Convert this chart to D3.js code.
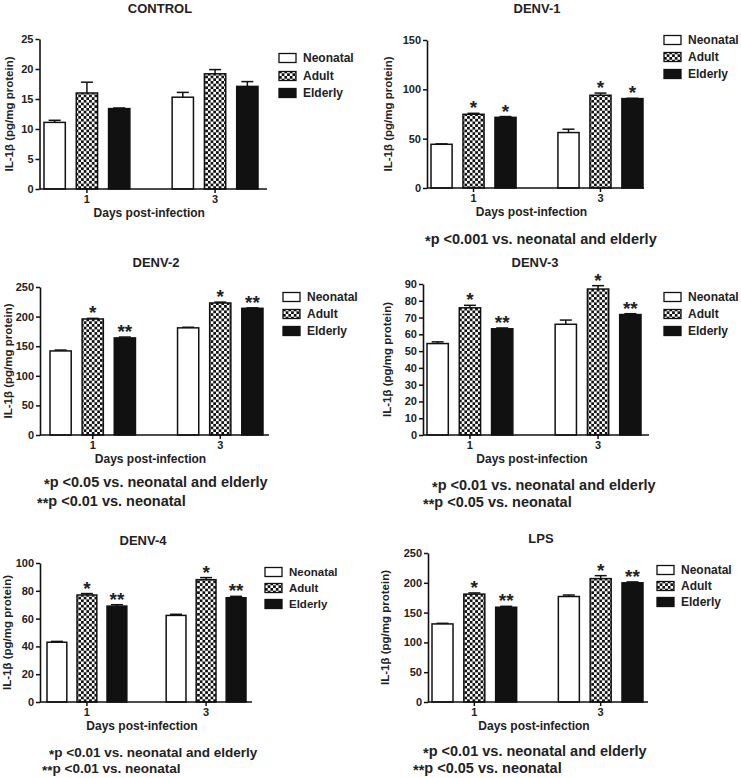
<!DOCTYPE html>
<html>
<head>
<meta charset="utf-8">
<script src="https://cdn.jsdelivr.net/npm/d3@7"></script>
<style>
  body { margin: 0; background: #fff; }
  svg { font-family: "Liberation Sans", Arial, sans-serif; font-weight: bold; }
</style>
</head>
<body>
<svg width="741" height="778"></svg>
<script>
var svg = d3.select("svg");

// data
var days = ["1", "3"];
var groups = ["Neonatal", "Adult", "Elderly"];
var panelNames = ["CONTROL", "DENV-1", "DENV-2", "DENV-3", "DENV-4", "LPS"];
var yMaxes = [25, 150, 250, 90, 100, 250];
var ySteps = [5, 50, 50, 10, 20, 50];

var controlMean = [[11.1, 16.0, 13.4], [15.3, 19.2, 17.1]];
var controlErr = [[0.35, 1.8, 0.1], [0.8, 0.7, 0.8]];
var controlStars = [["", "", ""], ["", "", ""]];

var denv1Mean = [[44.3, 74.7, 71.6], [56.2, 94, 90.6]];
var denv1Err = [[0.4, 1, 0.8], [3.4, 2.2, 0.3]];
var denv1Stars = [["", "*", "*"], ["", "*", "*"]];

var denv2Mean = [[142, 196, 164], [181, 223, 214]];
var denv2Err = [[1.5, 1, 1.5], [1, 1.5, 0.8]];
var denv2Stars = [["", "*", "**"], ["", "*", "**"]];

var denv3Mean = [[54.5, 75.8, 63.3], [66, 87, 71.8]];
var denv3Err = [[1, 1.5, 0.5], [2.5, 2, 0.5]];
var denv3Stars = [["", "*", "**"], ["", "*", "**"]];

var denv4Mean = [[43, 77, 69], [62.3, 88, 75]];
var denv4Err = [[0.6, 1, 1], [0.8, 1.5, 1]];
var denv4Stars = [["", "*", "**"], ["", "*", "**"]];

var lpsMean = [[131, 181, 159], [177, 207, 200]];
var lpsErr = [[1, 2, 1.5], [2.5, 5, 1.5]];
var lpsStars = [["", "*", "**"], ["", "*", "**"]];

var footnotes = [
  [],
  ["*p <0.001 vs. neonatal and elderly"],
  ["*p <0.05 vs. neonatal and elderly", "**p <0.01 vs. neonatal"],
  ["*p <0.01 vs. neonatal and elderly", "**p <0.05 vs. neonatal"],
  ["*p <0.01 vs. neonatal and elderly", "**p <0.01 vs. neonatal"],
  ["*p <0.01 vs. neonatal and elderly", "**p <0.05 vs. neonatal"]
];

var means = [controlMean, denv1Mean, denv2Mean, denv3Mean, denv4Mean, lpsMean];
var errs = [controlErr, denv1Err, denv2Err, denv3Err, denv4Err, lpsErr];
var stars = [controlStars, denv1Stars, denv2Stars, denv3Stars, denv4Stars, lpsStars];

// where each panel sits on the page
var layout = [
  {x0: 39.5, x1: 267, b0: 44, b1: 258, yT: 39, yB: 189, labX: 9, tX: 160, tY: 8, lgX: 279, lgY: [58, 76, 93], lgFs: 12, fnX: [], fnY: [], fnFs: 14.5},
  {x0: 427, x1: 644, b0: 431, b1: 643, yT: 40, yB: 188, labX: 388, tX: 537, tY: 8, lgX: 664, lgY: [40, 57, 74], lgFs: 12, fnX: [425], fnY: [239], fnFs: 14.5},
  {x0: 40, x1: 269, b0: 50, b1: 263, yT: 287, yB: 435, labX: 8, tX: 156, tY: 262, lgX: 283, lgY: [297, 314, 331], lgFs: 12, fnX: [44, 37], fnY: [482, 501], fnFs: 14.5},
  {x0: 423, x1: 649, b0: 427, b1: 641, yT: 284, yB: 435, labX: 387, tX: 535, tY: 262, lgX: 664, lgY: [297, 314, 331], lgFs: 12, fnX: [432, 423], fnY: [485, 502], fnFs: 14.5},
  {x0: 40, x1: 252, b0: 47, b1: 246, yT: 563, yB: 702, labX: 7, tX: 143, tY: 540, lgX: 265, lgY: [572, 588, 604], lgFs: 11.5, fnX: [49, 42], fnY: [752, 768], fnFs: 13.5},
  {x0: 428, x1: 648, b0: 432, b1: 643, yT: 553, yB: 702, labX: 385, tX: 541, tY: 538, lgX: 657, lgY: [570, 586, 602], lgFs: 12, fnX: [423, 413], fnY: [751, 768], fnFs: 14.5}
];

var fills = {Neonatal: "#fff", Adult: "url(#checker)", Elderly: "#111"};

var defs = svg.append("defs");
var pat = defs.append("pattern")
  .attr("id", "checker")
  .attr("width", 5.4).attr("height", 5.4)
  .attr("patternUnits", "userSpaceOnUse");
pat.append("rect").attr("width", 5.4).attr("height", 5.4).attr("fill", "#fff");
pat.append("rect").attr("width", 2.7).attr("height", 2.7).attr("fill", "#111");
pat.append("rect").attr("x", 2.7).attr("y", 2.7).attr("width", 2.7).attr("height", 2.7).attr("fill", "#111");

panelNames.forEach(function(name, p) {
  var L = layout[p];
  var g = svg.append("g");

  var x = d3.scaleBand().domain(days).range([L.b0, L.b1]).paddingInner(0.33);
  var x1 = d3.scaleBand().domain(groups).range([0, x.bandwidth()]).paddingInner(0.34);
  var y = d3.scaleLinear().domain([0, yMaxes[p]]).range([L.yB, L.yT]);

  var rows = [];
  days.forEach(function(d, i) {
    groups.forEach(function(grp, j) {
      rows.push({day: d, group: grp, mean: means[p][i][j], err: errs[p][i][j], star: stars[p][i][j]});
    });
  });

  // bars
  g.selectAll(".bar")
    .data(rows)
    .enter().append("rect")
    .attr("x", function(d) { return x(d.day) + x1(d.group); })
    .attr("y", function(d) { return y(d.mean); })
    .attr("width", x1.bandwidth())
    .attr("height", function(d) { return L.yB - y(d.mean); })
    .attr("fill", function(d) { return fills[d.group]; })
    .attr("stroke", "#111")
    .attr("stroke-width", 1.5);

  // error bars (upper only)
  var eb = g.selectAll(".err")
    .data(rows)
    .enter().append("g")
    .attr("transform", function(d) { return "translate(" + (x(d.day) + x1(d.group) + x1.bandwidth() / 2) + ",0)"; });
  eb.append("line")
    .attr("y1", function(d) { return y(d.mean); })
    .attr("y2", function(d) { return y(d.mean + d.err); })
    .attr("stroke", "#111").attr("stroke-width", 1.5);
  eb.append("line")
    .attr("x1", -6).attr("x2", 6)
    .attr("y1", function(d) { return y(d.mean + d.err); })
    .attr("y2", function(d) { return y(d.mean + d.err); })
    .attr("stroke", "#111").attr("stroke-width", 1.5);
  eb.append("text")
    .attr("y", function(d) { return y(d.mean + d.err) + 1; })
    .attr("text-anchor", "middle")
    .attr("font-size", 19)
    .attr("fill", "#222")
    .text(function(d) { return d.star; });

  // y axis
  var yAxis = g.append("g")
    .attr("transform", "translate(" + L.x0 + ",0)")
    .call(d3.axisLeft(y).tickValues(d3.range(0, yMaxes[p] + 1, ySteps[p])).tickSize(4).tickSizeOuter(0).tickPadding(2));
  yAxis.select(".domain").attr("stroke", "#111").attr("stroke-width", 1.6);
  yAxis.selectAll(".tick line").attr("stroke", "#111").attr("stroke-width", 1.5);
  yAxis.selectAll("text").attr("font-size", 11).attr("font-weight", "bold").attr("fill", "#222")
    .attr("font-family", "Liberation Sans, Arial, sans-serif");

  // x axis
  var xAxis = g.append("g")
    .attr("transform", "translate(0," + L.yB + ")")
    .call(d3.axisBottom(x).tickSize(4).tickSizeOuter(0).tickPadding(2));
  xAxis.select(".domain").remove();
  xAxis.append("line")
    .attr("x1", L.x0).attr("x2", L.x1)
    .attr("stroke", "#111").attr("stroke-width", 1.6);
  xAxis.selectAll(".tick line").attr("stroke", "#111").attr("stroke-width", 1.5);
  xAxis.selectAll("text").attr("font-size", 11).attr("font-weight", "bold").attr("fill", "#222")
    .attr("font-family", "Liberation Sans, Arial, sans-serif");

  g.append("text")
    .attr("x", (L.x0 + L.x1) / 2 - 4)
    .attr("y", L.yB + 24)
    .attr("dominant-baseline", "central")
    .attr("text-anchor", "middle")
    .attr("font-size", 12)
    .attr("fill", "#222")
    .text("Days post-infection");

  // y label
  g.append("text")
    .attr("transform", "translate(" + L.labX + "," + (L.yT + L.yB) / 2 + ") rotate(-90)")
    .attr("dominant-baseline", "central")
    .attr("text-anchor", "middle")
    .attr("font-size", 11.5)
    .attr("fill", "#222")
    .text("IL-1β (pg/mg protein)");

  // title
  g.append("text")
    .attr("x", L.tX).attr("y", L.tY)
    .attr("dominant-baseline", "central")
    .attr("text-anchor", "middle")
    .attr("font-size", 13)
    .attr("fill", "#222")
    .text(name);

  // legend
  var lg = g.selectAll(".lg")
    .data(groups)
    .enter().append("g")
    .attr("transform", function(d, i) { return "translate(" + L.lgX + "," + L.lgY[i] + ")"; });
  lg.append("rect")
    .attr("x", 0).attr("y", -4.5)
    .attr("width", 17).attr("height", 9)
    .attr("fill", function(d) { return fills[d]; })
    .attr("stroke", "#111").attr("stroke-width", 1.3);
  lg.append("text")
    .attr("x", 24)
    .attr("dominant-baseline", "central")
    .attr("font-size", L.lgFs)
    .attr("fill", "#222")
    .text(function(d) { return d; });

  // footnotes
  footnotes[p].forEach(function(t, k) {
    var m = t.match(/^(\*+)(.*)$/);
    var ft = g.append("text")
      .attr("x", L.fnX[k]).attr("y", L.fnY[k])
      .attr("dominant-baseline", "central")
      .attr("font-size", L.fnFs)
      .attr("fill", "#222");
    ft.append("tspan").attr("dy", 1.5).text(m[1]);
    ft.append("tspan").attr("dy", -1.5).text(m[2]);
  });
});
</script>
</body>
</html>
